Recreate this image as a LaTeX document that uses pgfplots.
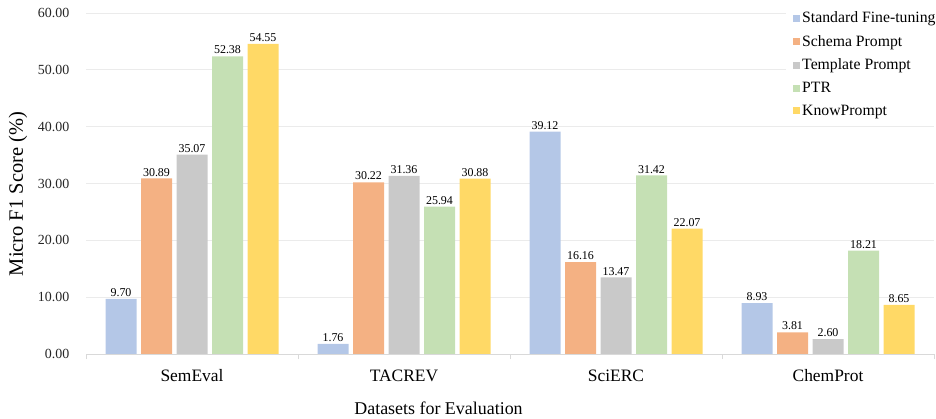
\documentclass[border=0pt]{standalone}
\usepackage{pgfplots}
\pgfplotsset{compat=1.18}
\usepackage{fontspec}
\setmainfont{Liberation Serif}

\definecolor{cBlue}{HTML}{B4C7E7}
\definecolor{cOrange}{HTML}{F4B183}
\definecolor{cGray}{HTML}{C9C9C9}
\definecolor{cGreen}{HTML}{C5E0B4}
\definecolor{cYellow}{HTML}{FFD966}
\definecolor{gridc}{HTML}{EBEBEB}
\definecolor{axisc}{HTML}{D9D9D9}

\begin{document}
\begin{tikzpicture}
\path[use as bounding box] (0,0) rectangle (936bp,419bp);
\begin{axis}[
  at={(86bp,65bp)}, anchor=south west,
  scale only axis, width=848bp, height=341bp,
  ybar=4.5bp, bar width=31bp,
  xmin=-0.5, xmax=3.5, ymin=0, ymax=60,
  xtick={0,1,2,3},
  xticklabels={SemEval,TACREV,SciERC,ChemProt},
  minor xtick={-0.5,0.5,1.5,2.5,3.5},
  major x tick style={draw=none},
  minor x tick style={draw=axisc, line width=0.8bp},
  minor tick length=5bp,
  tick align=outside,
  ytick={0,10,...,60},
  y tick style={draw=none},
  ymajorgrids, grid style={draw=gridc, line width=0.8bp},
  axis lines*=left,
  axis line style={-},
  x axis line style={draw=axisc, line width=0.8bp},
  y axis line style={draw=none},
  /pgf/number format/.cd, fixed, fixed zerofill, precision=2, assume math mode=true,
  /pgfplots/.cd,
  yticklabel style={font=\fontsize{14}{16}\selectfont, xshift=-9bp, text=black!85},
  xticklabel style={font=\fontsize{17.5}{19}\selectfont, yshift=-8bp},
  xlabel={Datasets for Evaluation},
  xlabel style={font=\fontsize{18}{20}\selectfont, at={(axis description cs:0.4157,-0.158)}, anchor=center},
  ylabel={Micro F1 Score (\%)},
  ylabel style={font=\fontsize{20.5}{23}\selectfont, at={(axis description cs:-0.0802,0.469)}, anchor=center},
  nodes near coords={\pgfmathprintnumber[fixed,fixed zerofill,precision=2,assume math mode=true]{\pgfplotspointmeta}},
  every node near coord/.append style={font=\fontsize{12}{14}\selectfont, inner sep=2bp, text=black},
  legend style={at={(axis description cs:0.8255,1.018)}, anchor=north west,
    draw=none, fill=white, font=\fontsize{15.8}{18}\selectfont,
    row sep=7bp, inner xsep=7bp, inner ysep=3bp,
    /tikz/every even column/.append style={column sep=0bp}},
  legend cell align=left,
  legend image code/.code={\fill[#1] (0bp,-3.5bp) rectangle (7bp,3.5bp);},
]
\addplot[fill=cBlue, draw=none] coordinates {(0,9.70) (1,1.76) (2,39.12) (3,8.93)};
\addplot[fill=cOrange, draw=none] coordinates {(0,30.89) (1,30.22) (2,16.16) (3,3.81)};
\addplot[fill=cGray, draw=none] coordinates {(0,35.07) (1,31.36) (2,13.47) (3,2.60)};
\addplot[fill=cGreen, draw=none] coordinates {(0,52.38) (1,25.94) (2,31.42) (3,18.21)};
\addplot[fill=cYellow, draw=none] coordinates {(0,54.55) (1,30.88) (2,22.07) (3,8.65)};
\legend{Standard Fine-tuning, Schema Prompt, Template Prompt, PTR, KnowPrompt}
\end{axis}
\end{tikzpicture}
\end{document}
